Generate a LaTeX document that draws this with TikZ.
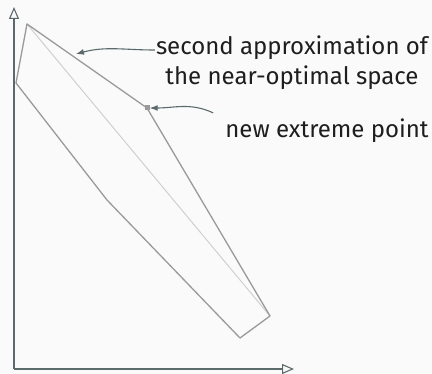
\documentclass[tikz,border=0pt]{standalone}
\usepackage{fontspec}
\setmainfont{Fira Sans}
\usetikzlibrary{arrows.meta}
\definecolor{bgcol}{HTML}{FAFAFA}
\definecolor{axiscol}{HTML}{5B6B6B}
\definecolor{polycol}{HTML}{9A9A9A}
\definecolor{diagcol}{HTML}{D0D0D0}
\definecolor{txtcol}{HTML}{1E1E1E}
\tikzset{
  axisline/.style={axiscol,line width=1.6pt,-{Triangle[open,length=12pt,width=10pt,line width=1.1pt]}},
  polyline/.style={polycol,line width=1.3pt,line join=round},
  pointer/.style={axiscol,line width=1.1pt,-{Latex[length=8pt,width=6pt]}},
  label/.style={text=txtcol,font=\fontsize{24}{30}\selectfont,align=center,inner sep=0pt}
}
\begin{document}
\begin{tikzpicture}[x=1pt,y=-1pt]
\fill[bgcol] (0,0) rectangle (432,374);
\useasboundingbox (0,0) rectangle (432,374);
% axes
\coordinate (o) at (14,369);
\coordinate (ytop) at (14,7);
\coordinate (xend) at (294,369);
\draw[axisline] (o) -- (ytop);
\draw[axisline] (o) -- (xend);
% polygon
\coordinate (p1) at (27,24);
\coordinate (p2) at (147,108);
\coordinate (p3) at (270,316);
\coordinate (p4) at (240,338);
\coordinate (p5) at (107,200);
\coordinate (p6) at (16,83);
\draw[diagcol,line width=1pt] (p1) -- (p3);
\draw[polyline] (p1) -- (p2) -- (p3) -- (p4) -- (p5) -- (p6) -- cycle;
\node[fill=polycol,minimum size=5pt,inner sep=0pt] (newpt) at (p2) {};
% labels
\node[label] (approx) at (292,63) {second approximation of\\the near-optimal space};
\node[label] (extreme) at (327,131) {new extreme point};
\coordinate (tip1) at (76,54);
\draw[pointer] (approx.west) ++(-1,-13) coordinate (s1) to[out=180,in=15] (tip1);
\draw[pointer] (extreme.north west) ++(-12,-6) coordinate (s2) to[out=155,in=0] (newpt.east);
\end{tikzpicture}
\end{document}
